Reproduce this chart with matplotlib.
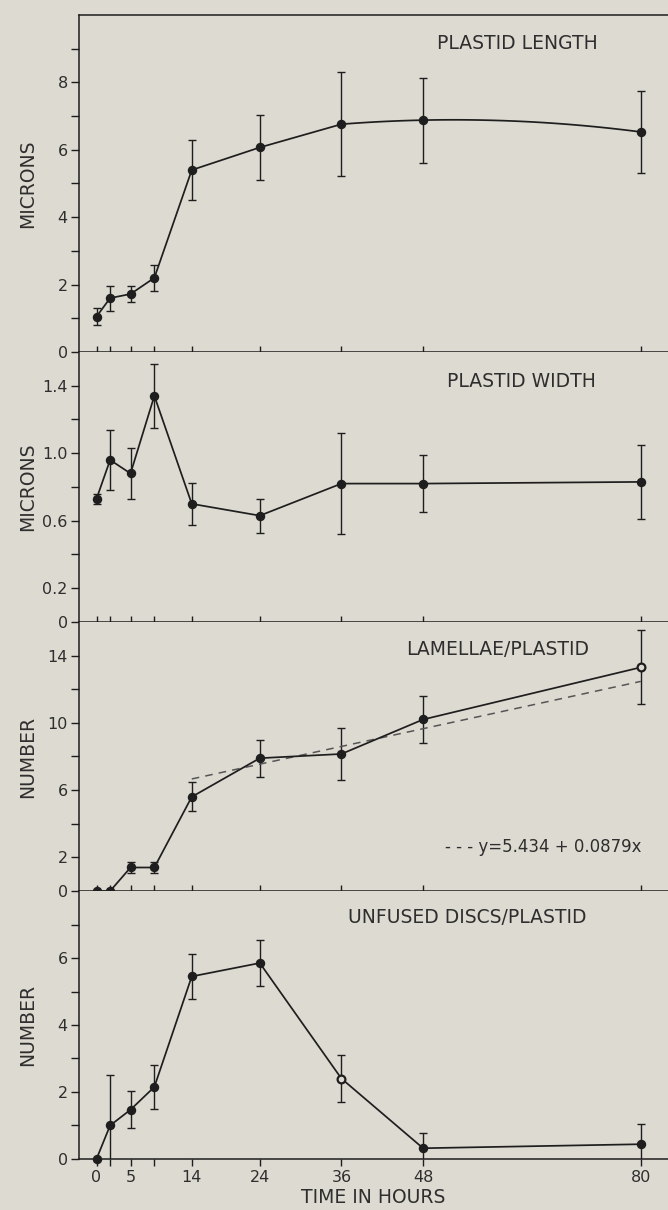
import matplotlib
matplotlib.use("Agg")
import matplotlib.pyplot as plt
import numpy as np

# sampling times (hours) and x tick labels of the bottom panel
TIME_H = [0, 2, 5, 8.5, 14, 24, 36, 48, 80]
XTICK_LABELS = ["0", "", "5", "", "14", "24", "36", "48", "80"]

# plastid length (microns)
LENGTH_MEAN = [1.05, 1.6, 1.72, 2.2, 5.4, 6.07, 6.76, 6.88, 6.53]
LENGTH_ERR = [0.25, 0.37, 0.25, 0.38, 0.9, 0.97, 1.54, 1.26, 1.22]

# plastid width (microns)
WIDTH_MEAN = [0.73, 0.96, 0.88, 1.34, 0.70, 0.63, 0.82, 0.82, 0.83]
WIDTH_ERR = [0.03, 0.18, 0.15, 0.19, 0.125, 0.10, 0.30, 0.17, 0.22]

# lamellae per plastid
LAMELLAE_MEAN = [0, 0, 1.4, 1.4, 5.6, 7.9, 8.15, 10.2, 13.3]
LAMELLAE_ERR = [0, 0, 0.35, 0.35, 0.87, 1.1, 1.55, 1.4, 2.2]
LAMELLAE_OPEN = [80]
FIT_INTERCEPT = 5.434
FIT_SLOPE = 0.0879
FIT_RANGE = [14, 80]

# unfused discs per plastid
DISCS_MEAN = [0, 1.0, 1.47, 2.15, 5.45, 5.85, 2.4, 0.32, 0.44]
DISCS_ERR = [0, 1.5, 0.55, 0.67, 0.68, 0.7, 0.69, 0.45, 0.6]
DISCS_OPEN = [36]

BG = "#dcdad1"
INK = "#1e1e1e"
TXT = "#2e2e2e"

plt.rcParams["font.family"] = ["DejaVu Sans"]
plt.rcParams["text.color"] = TXT
plt.rcParams["axes.labelcolor"] = TXT
plt.rcParams["xtick.color"] = INK
plt.rcParams["ytick.color"] = INK
plt.rcParams["xtick.labelcolor"] = TXT
plt.rcParams["ytick.labelcolor"] = TXT


def draw_panel(ax, means, errs, ylim, yticks, ylabels, ylabel, title, title_xy,
               open_times=(), smooth_tail=False, bottom=False):
    t = np.asarray(TIME_H, dtype=float)
    m = np.asarray(means, dtype=float)
    ax.set_facecolor(BG)
    ax.errorbar(t, m, yerr=errs, fmt="none", ecolor=INK, elinewidth=1.0,
                capsize=2.6, capthick=1.0, zorder=2)
    if smooth_tail:
        # straight segments up to 36 h, then a smooth curve through the last points
        ax.plot(t[:7], m[:7], color=INK, lw=1.25, zorder=3)
        coef = np.polyfit(t[6:], m[6:], 2)
        xs = np.linspace(t[6], t[-1], 60)
        ax.plot(xs, np.polyval(coef, xs), color=INK, lw=1.25, zorder=3)
    else:
        ax.plot(t, m, color=INK, lw=1.25, zorder=3)
    filled = [i for i, x in enumerate(TIME_H) if x not in open_times]
    hollow = [i for i, x in enumerate(TIME_H) if x in open_times]
    ax.plot(t[filled], m[filled], "o", ms=5.8, color=INK, zorder=4, clip_on=False)
    if hollow:
        ax.plot(t[hollow], m[hollow], "o", ms=5.6, mfc=BG, mec=INK, mew=1.6,
                zorder=4, clip_on=False)

    ax.set_xlim(-2.6, 84)
    ax.set_ylim(*ylim)
    ax.set_yticks(yticks)
    ax.set_yticklabels(ylabels, fontsize=11.5)
    ax.tick_params(axis="y", direction="out", length=6, width=1, pad=2)
    ax.set_xticks(TIME_H)
    if bottom:
        ax.set_xticklabels(XTICK_LABELS, fontsize=11.5)
        ax.tick_params(axis="x", direction="out", length=5, width=1, pad=3)
        ax.set_xlabel("TIME IN HOURS", fontsize=13.5, labelpad=2)
    else:
        ax.set_xticklabels([])
        ax.tick_params(axis="x", direction="in", length=4, width=1)

    ax.spines["right"].set_visible(False)
    for s in ("left", "bottom", "top"):
        ax.spines[s].set_color(INK)
        ax.spines[s].set_linewidth(1.1)
    ax.set_ylabel(ylabel, fontsize=13.5)
    ax.yaxis.set_label_coords(-0.07, 0.5)
    ax.text(title_xy[0], title_xy[1], title, transform=ax.transAxes,
            ha="center", va="center", fontsize=13.5)


fig = plt.figure(figsize=(6.68, 12.10), dpi=100, facecolor=BG)
left = 0.118
width = 1.0 - left
ax1 = fig.add_axes([left, 0.7091, width, 0.2785])
ax2 = fig.add_axes([left, 0.4860, width, 0.2231])
ax3 = fig.add_axes([left, 0.2636, width, 0.2224])
ax4 = fig.add_axes([left, 0.0422, width, 0.2214])

draw_panel(ax1, LENGTH_MEAN, LENGTH_ERR, (0, 10),
           list(range(0, 10)),
           [str(v) if v % 2 == 0 else "" for v in range(0, 10)],
           "MICRONS", "PLASTID LENGTH", (0.744, 0.914), smooth_tail=True)

w_ticks = [0, 0.2, 0.4, 0.6, 0.8, 1.0, 1.2, 1.4]
w_labels = ["0", "0.2", "", "0.6", "", "1.0", "", "1.4"]
draw_panel(ax2, WIDTH_MEAN, WIDTH_ERR, (0, 1.6), w_ticks, w_labels,
           "MICRONS", "PLASTID WIDTH", (0.752, 0.889))
ax2.spines["top"].set_visible(False)

l_ticks = [0, 2, 4, 6, 8, 10, 12, 14]
l_labels = ["0", "2", "", "6", "", "10", "", "14"]
draw_panel(ax3, LAMELLAE_MEAN, LAMELLAE_ERR, (0, 16), l_ticks, l_labels,
           "NUMBER", "LAMELLAE/PLASTID", (0.71, 0.896), open_times=LAMELLAE_OPEN)
ax3.spines["top"].set_visible(False)
fit_x = np.array(FIT_RANGE, dtype=float)
ax3.plot(fit_x, FIT_INTERCEPT + FIT_SLOPE * fit_x, ls=(0, (5, 4)),
         color="#555555", lw=1.1, zorder=2.5)
ax3.text(0.788, 0.164, "- - - y=5.434 + 0.0879x", transform=ax3.transAxes,
         ha="center", va="center", fontsize=12)

d_ticks = list(range(0, 8))
d_labels = [str(v) if v % 2 == 0 else "" for v in range(0, 8)]
draw_panel(ax4, DISCS_MEAN, DISCS_ERR, (0, 8), d_ticks, d_labels,
           "NUMBER", "UNFUSED DISCS/PLASTID", (0.659, 0.90),
           open_times=DISCS_OPEN, bottom=True)
ax4.spines["top"].set_visible(False)

fig.savefig("out.png", dpi=100, facecolor=BG)
